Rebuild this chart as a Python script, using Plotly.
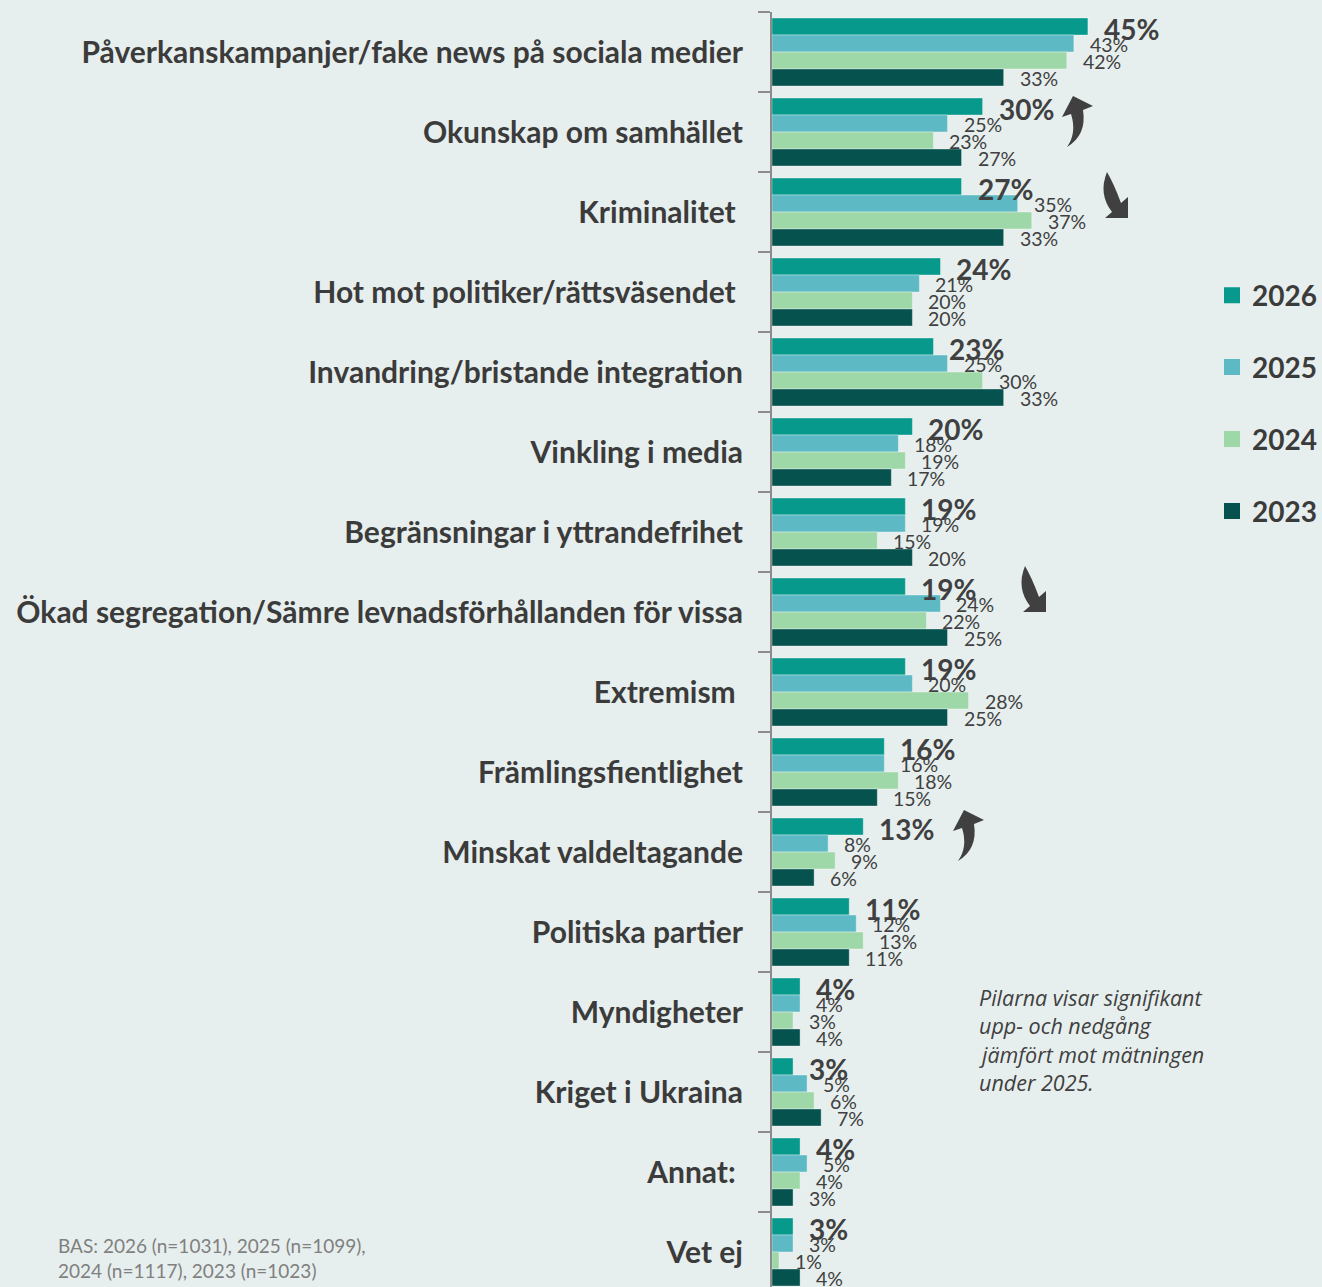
import plotly.graph_objects as go

# ---------------- data ----------------
categories = [
    "Påverkanskampanjer/fake news på sociala medier",
    "Okunskap om samhället",
    "Kriminalitet\u00a0",
    "Hot mot politiker/rättsväsendet\u00a0",
    "Invandring/bristande integration",
    "Vinkling i media",
    "Begränsningar i yttrandefrihet",
    "Ökad segregation/Sämre levnadsförhållanden för vissa",
    "Extremism\u00a0",
    "Främlingsfientlighet",
    "Minskat valdeltagande",
    "Politiska partier",
    "Myndigheter",
    "Kriget i Ukraina",
    "Annat:\u00a0",
    "Vet ej",
]
series_names = ["2026", "2025", "2024", "2023"]
v2026 = [45, 30, 27, 24, 23, 20, 19, 19, 19, 16, 13, 11, 4, 3, 4, 3]
v2025 = [43, 25, 35, 21, 25, 18, 19, 24, 20, 16, 8, 12, 4, 5, 5, 3]
v2024 = [42, 23, 37, 20, 30, 19, 15, 22, 28, 18, 9, 13, 3, 6, 4, 1]
v2023 = [33, 27, 33, 20, 33, 17, 20, 25, 25, 15, 6, 11, 4, 7, 3, 4]
series_values = [v2026, v2025, v2024, v2023]

# significance arrows (category, direction)
arrow_cats = [categories[1], categories[2], categories[7], categories[10]]
arrow_dirs = ["up", "down", "down", "up"]

note_lines = ["Pilarna visar signifikant", "upp- och nedgång",
              "jämfört mot mätningen", "under 2025."]
base_lines = ["BAS: 2026 (n=1031), 2025 (n=1099),", "2024 (n=1117), 2023 (n=1023)"]

# ---------------- style ----------------
colors = ["#07998c", "#5dbac4", "#9fd8a8", "#06524f"]
BG = "#e7efee"
TXT = "#3b3b3b"
W, H = 1322, 1287
ML, MT = 772, 12
PLOT_W, PLOT_H = W - ML, H - MT
PX_PER_UNIT = 7.02
FONT = "Lato"


def paper_x(px):
    return (px - ML) / PLOT_W


def paper_y(py):
    return (H - py) / PLOT_H


fig = go.Figure()
for name, vals, col in zip(series_names, series_values, colors):
    fig.add_trace(go.Bar(
        name=name, y=categories, x=vals, orientation="h",
        marker=dict(color=col, line=dict(color="rgba(255,255,255,0.35)", width=1)),
        showlegend=False, hoverinfo="skip"))
for name, col in zip(series_names, colors):
    fig.add_trace(go.Scatter(
        x=[None], y=[None], mode="markers", name=name, legendgroup=name,
        marker=dict(symbol="square", size=16, color=col), showlegend=True))

annotations = []
for i, vals in enumerate(series_values):
    offset_down = -25.5 + 17 * i
    for cat, v in zip(categories, vals):
        annotations.append(dict(
            x=v, y=cat, xref="x", yref="y", text=f"{v}%", showarrow=False,
            xanchor="left", yanchor="middle", xshift=14,
            yshift=-(offset_down + (2 if i == 0 else 0.5)),
            font=dict(family=FONT, size=28 if i == 0 else 19.5, color="#404040",
                      weight="bold" if i == 0 else "normal")))

for k, line in enumerate(note_lines):
    annotations.append(dict(
        x=paper_x(977), y=paper_y(997 + 28.5 * k), xref="paper", yref="paper",
        text=line, showarrow=False, xanchor="left", yanchor="middle",
        font=dict(family="Open Sans", size=21.5, color="#404040", style="italic")))

for k, line in enumerate(base_lines):
    annotations.append(dict(
        x=paper_x(56), y=paper_y(1245 + 25 * k), xref="paper", yref="paper",
        text=line, showarrow=False, xanchor="left", yanchor="middle",
        font=dict(family=FONT, size=19, color="#808080")))


def build_path(cmds, dy):
    out = []
    for cmd, pts in cmds:
        coords = " ".join(f"{x},{-(y + dy)}" for x, y in pts)
        out.append(f"{cmd}{coords}")
    return " ".join(out) + " Z"


# arrow outlines in screen pixels relative to the tail (y downwards)
up_arrow = [
    ("M", [(-1, 0)]),
    ("Q", [(9, -14), (3, -33)]),
    ("L", [(-6, -30)]),
    ("L", [(5, -51)]),
    ("L", [(25, -41)]),
    ("L", [(15, -37)]),
    ("Q", [(19, -12), (-1, 0)]),
]
down_arrow = [
    ("M", [(0, 0)]),
    ("Q", [(-9, 22), (5, 40)]),
    ("L", [(-2, 46)]),
    ("L", [(21, 46)]),
    ("L", [(21, 25)]),
    ("L", [(14, 31)]),
    ("Q", [(7, 12), (0, 0)]),
]
# tail anchor: x pixel of tail, vertical pixel offset from category centre
arrow_tail_px = [1068, 1107, 1025, 959]
arrow_tail_dy = [15, -40, -46, 9]

shapes = []
for cat, d, tx, dy in zip(arrow_cats, arrow_dirs, arrow_tail_px, arrow_tail_dy):
    base = up_arrow if d == "up" else down_arrow
    shapes.append(dict(
        type="path", xref="x", yref="y", xsizemode="pixel", ysizemode="pixel",
        xanchor=(tx - ML) / PX_PER_UNIT, yanchor=cat,
        path=build_path(base, dy), fillcolor="#404040", line=dict(width=0)))

n = len(categories)
fig.update_layout(
    width=W, height=H,
    margin=dict(l=ML, r=0, t=MT, b=0, autoexpand=False),
    paper_bgcolor=BG, plot_bgcolor=BG,
    barmode="group", bargap=0.15, bargroupgap=0,
    xaxis=dict(range=[0, PLOT_W / PX_PER_UNIT], visible=False, fixedrange=True),
    yaxis=dict(
        type="category", categoryorder="array", categoryarray=categories,
        range=[n - 0.5 - (n * 80 - PLOT_H) / 80, -0.5],
        showline=True, linecolor="#8c8c8c", linewidth=2,
        ticks="outside", tickson="boundaries", ticklen=12, tickwidth=2,
        tickcolor="#8c8c8c", showgrid=False, zeroline=False, automargin=False,
        ticklabelstandoff=21, fixedrange=True,
        tickfont=dict(family=FONT, size=30, color=TXT, weight="bold"),
    ),
    legend=dict(
        x=paper_x(1212), y=paper_y(270.5), xanchor="left", yanchor="top",
        font=dict(family=FONT, size=28, color=TXT, weight="bold"),
        tracegroupgap=32.5, bgcolor="rgba(0,0,0,0)", itemclick=False,
    ),
    annotations=annotations,
    shapes=shapes,
    showlegend=True,
)

fig.write_html("out.html",
               config={"displayModeBar": False},
               post_script="document.body.style.margin='0';"
                           "document.body.style.background='" + BG + "';")
